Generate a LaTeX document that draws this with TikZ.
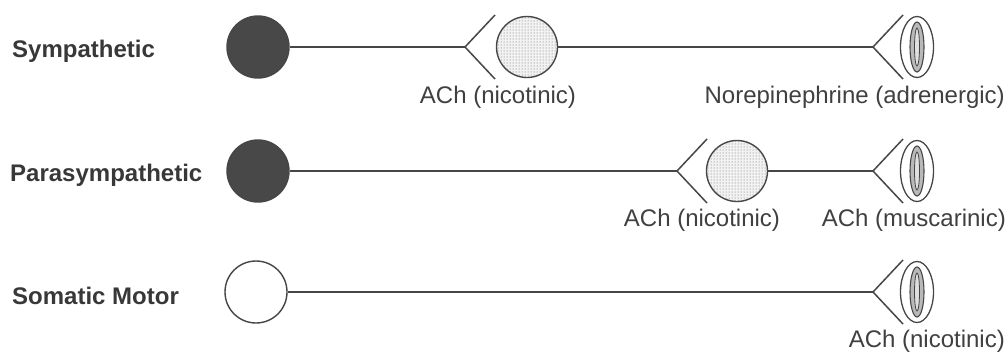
\documentclass[tikz,border=0pt]{standalone}
\usepackage{fontspec}
\setmainfont{Liberation Sans}
\usepackage{tikz}
\usetikzlibrary{shapes.geometric,patterns}
\definecolor{inkgray}{RGB}{70,70,70}
\definecolor{somagray}{RGB}{72,72,72}
\tikzset{
    soma/.style={
        circle,
        draw=inkgray,
        fill=somagray,
        line width=1.4pt,
        minimum size=62pt,
        inner sep=0pt
    },
    motor/.style={soma,fill=white},
    gang/.style={
        circle,
        draw=inkgray,
        fill=gray!10,
        line width=1.4pt,
        minimum size=61pt,
        inner sep=0pt,
        postaction={pattern=dots,pattern color=black!60}
    },
    effector/.style={
        ellipse,
        draw=inkgray,
        line width=1.3pt,
        minimum width=33pt,
        minimum height=61pt,
        inner sep=0pt
    },
    axon/.style={draw=inkgray,line width=1.5pt},
    rowlbl/.style={anchor=west,font=\fontsize{24}{28}\selectfont\bfseries,text=black!78},
    rcplbl/.style={font=\fontsize{24}{28}\selectfont,text=black!75}
}
\newcommand{\rcpcup}[1]{\draw[axon] (#1) ++(30,-32) -- (#1) -- ++(30,32);}
\newcommand{\rcpcore}[1]{%
  \draw[inkgray,line width=1.1pt,fill=gray!55] (#1) ellipse (7 and 25);
  \draw[inkgray,line width=0.8pt,fill=gray!25] (#1) ellipse (2.5 and 19);}

\begin{document}
\begin{tikzpicture}[x=1pt,y=-1pt]
\useasboundingbox (0,0) rectangle (1007,354);
% row labels
\node[rowlbl,inner sep=0pt] (lsym) at (12,51) {Sympathetic};
\node[rowlbl,inner sep=0pt] (lpar) at (10,175) {Parasympathetic};
\node[rowlbl,inner sep=0pt] (lsom) at (12,296) {Somatic Motor};
% sympathetic
\node[soma] (s1) at (258,47) {};
\coordinate (c1) at (465,47);
\node[gang] (g1) at (527,47) {};
\coordinate (c2) at (873,47);
\node[effector] (e1) at (917,47) {};
\rcpcore{e1}
\draw[axon] (s1) -- (c1);
\draw[axon] (g1) -- (c2);
\rcpcup{c1}
\rcpcup{c2}
\node[rcplbl] (n1) at (498,97) {ACh (nicotinic)};
\node[rcplbl,anchor=east,inner sep=0pt] (n2) at (1005,97) {Norepinephrine (adrenergic)};
% parasympathetic
\node[soma] (s2) at (258,171) {};
\coordinate (c3) at (677,171);
\node[gang] (g2) at (737,171) {};
\coordinate (c4) at (873,171);
\node[effector] (e2) at (917,171) {};
\rcpcore{e2}
\draw[axon] (s2) -- (c3);
\draw[axon] (g2) -- (c4);
\rcpcup{c3}
\rcpcup{c4}
\node[rcplbl] (n3) at (702,220) {ACh (nicotinic)};
\node[rcplbl,anchor=east,inner sep=0pt] (n4) at (1006,220) {ACh (muscarinic)};
% somatic motor
\node[motor] (s3) at (256,292) {};
\coordinate (c5) at (873,292);
\node[effector] (e3) at (917,292) {};
\rcpcore{e3}
\draw[axon] (s3) -- (c5);
\rcpcup{c5}
\node[rcplbl,anchor=east,inner sep=0pt] (n5) at (1005,341) {ACh (nicotinic)};
\end{tikzpicture}
\end{document}
